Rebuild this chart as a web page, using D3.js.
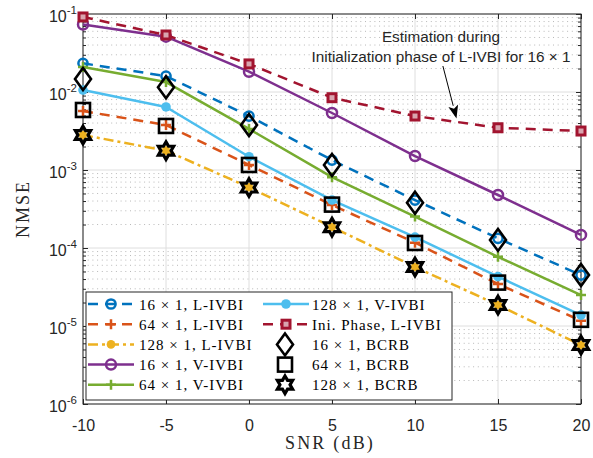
<!DOCTYPE html>
<html>
<head>
<meta charset="utf-8">
<script src="https://cdn.jsdelivr.net/npm/d3@7"></script>
<style>
  html, body { margin: 0; padding: 0; background: #fff; }
  svg { display: block; }
</style>
</head>
<body>
<svg id="chart" width="593" height="458"></svg>
<script>
// SNR sweep (dB)
const snr = [-10, -5, 0, 5, 10, 15, 20];
const xTicks = [-10, -5, 0, 5, 10, 15, 20];
const yTickExponents = [-6, -5, -4, -3, -2, -1];

// NMSE per method
const lIvbi16  = [0.0233, 0.0160, 0.00492, 0.00134, 4.12e-4, 1.33e-4, 4.5e-5];
const lIvbi64  = [0.0057, 0.00377, 0.00116, 3.56e-4, 1.17e-4, 3.45e-5, 1.17e-5];
const lIvbi128 = [0.00281, 0.00177, 6.0e-4, 1.86e-4, 5.7e-5, 1.86e-5, 5.7e-6];
const vIvbi16  = [0.0733, 0.0512, 0.0182, 0.00538, 0.00151, 4.78e-4, 1.47e-4];
const vIvbi64  = [0.0209, 0.0134, 0.00336, 8.1e-4, 2.53e-4, 7.7e-5, 2.49e-5];
const vIvbi128 = [0.0106, 0.00643, 0.00148, 4.12e-4, 1.38e-4, 4.29e-5, 1.38e-5];
const iniPhase = [0.0916, 0.0538, 0.0229, 0.00845, 0.00492, 0.00348, 0.00316];
const bcrb16   = [0.0147, 0.0115, 0.00377, 0.00116, 3.81e-4, 1.27e-4, 4.5e-5];
const bcrb64   = [0.00588, 0.00367, 0.00116, 3.6e-4, 1.16e-4, 3.6e-5, 1.2e-5];
const bcrb128  = [0.00281, 0.00177, 5.95e-4, 1.85e-4, 5.7e-5, 1.86e-5, 5.7e-6];

const seriesLabels = [
  "16 \u00d7 1, L-IVBI", "64 \u00d7 1, L-IVBI", "128 \u00d7 1, L-IVBI",
  "16 \u00d7 1, V-IVBI", "64 \u00d7 1, V-IVBI", "128 \u00d7 1, V-IVBI",
  "Ini. Phase, L-IVBI", "16 \u00d7 1, BCRB", "64 \u00d7 1, BCRB", "128 \u00d7 1, BCRB"
];

const annotationLines = ["Estimation during", "Initialization phase of L-IVBI for 16 \u00d7 1"];

// ---- styling of each curve ----
const series = [
  { values: lIvbi16,  color: "#0072BD", dash: "10,7",     marker: "circleOpen",  width: 2.5 },
  { values: lIvbi64,  color: "#D95319", dash: "10,7",     marker: "plus",        width: 2.5 },
  { values: lIvbi128, color: "#EDB120", dash: "10,4,3,4", marker: "circleSmall", width: 2.5 },
  { values: vIvbi16,  color: "#7E2F8E", dash: null,       marker: "circleOpenL", width: 2.5 },
  { values: vIvbi64,  color: "#77AC30", dash: null,       marker: "plus",        width: 2.5 },
  { values: vIvbi128, color: "#4DBEEE", dash: null,       marker: "circleFill",  width: 2.5 },
  { values: iniPhase, color: "#A2142F", dash: "10,7",     marker: "square",      width: 2.5 },
  { values: bcrb16,   color: "#000000", dash: null,       marker: "diamond",     width: 0 },
  { values: bcrb64,   color: "#000000", dash: null,       marker: "squareBig",   width: 0 },
  { values: bcrb128,  color: "#000000", dash: null,       marker: "hexagram",    width: 0 }
];
series.forEach((s, i) => s.label = seriesLabels[i]);

const svg = d3.select("#chart");
const plotLeft = 83, plotRight = 581, plotTop = 14, plotBottom = 404;
const axisColor = "#262626";

const x = d3.scaleLinear().domain([-10, 20]).range([plotLeft, plotRight]);
const y = d3.scaleLog().domain([1e-6, 1e-1]).range([plotBottom, plotTop]);

// ---- grid ----
const grid = svg.append("g");
const minorVals = [];
yTickExponents.forEach(e => { if (e < -1) for (let k = 2; k <= 9; k++) minorVals.push(k * Math.pow(10, e)); });
grid.selectAll("line.minor").data(minorVals).enter().append("line")
  .attr("x1", plotLeft).attr("x2", plotRight)
  .attr("y1", d => y(d)).attr("y2", d => y(d))
  .attr("stroke", "#b8b8b8").attr("stroke-width", 1)
  .attr("stroke-dasharray", "1,3.7");
grid.selectAll("line.majY").data(yTickExponents.map(e => Math.pow(10, e))).enter().append("line")
  .attr("x1", plotLeft).attr("x2", plotRight)
  .attr("y1", d => y(d)).attr("y2", d => y(d))
  .attr("stroke", "#dedede").attr("stroke-width", 1);
grid.selectAll("line.majX").data(xTicks).enter().append("line")
  .attr("x1", d => x(d)).attr("x2", d => x(d))
  .attr("y1", plotTop).attr("y2", plotBottom)
  .attr("stroke", "#dedede").attr("stroke-width", 1);

// ---- axes ----
const axisG = svg.append("g").attr("color", axisColor);
const xAxisB = d3.axisBottom(x).tickValues(xTicks).tickSize(-5).tickPadding(16).tickFormat(d3.format("d"));
const xAxisT = d3.axisTop(x).tickValues(xTicks).tickSize(-5).tickFormat("");
const yMajor = yTickExponents.map(e => Math.pow(10, e));
const yAxisL = d3.axisLeft(y).tickValues(yMajor).tickSize(-5).tickFormat("");
const yAxisR = d3.axisRight(y).tickValues(yMajor).tickSize(-5).tickFormat("");
const yMinorL = d3.axisLeft(y).tickValues(minorVals).tickSize(-3).tickFormat("");
const yMinorR = d3.axisRight(y).tickValues(minorVals).tickSize(-3).tickFormat("");

function styleAxis(g) {
  g.select(".domain").remove();
  g.selectAll(".tick line").attr("stroke", axisColor).attr("stroke-width", 1);
  g.selectAll("text").attr("font-family", "'Liberation Sans', Arial, sans-serif")
    .attr("font-size", 16).attr("fill", axisColor);
}
const gxB = axisG.append("g").attr("transform", `translate(0,${plotBottom})`).call(xAxisB).call(styleAxis);
gxB.selectAll("text").text(d => d < 0 ? "-" + Math.abs(d) : d);
axisG.append("g").attr("transform", `translate(0,${plotTop})`).call(xAxisT).call(styleAxis);
axisG.append("g").attr("transform", `translate(${plotLeft},0)`).call(yAxisL).call(styleAxis);
axisG.append("g").attr("transform", `translate(${plotRight},0)`).call(yAxisR).call(styleAxis);
axisG.append("g").attr("transform", `translate(${plotLeft},0)`).call(yMinorL).call(styleAxis);
axisG.append("g").attr("transform", `translate(${plotRight},0)`).call(yMinorR).call(styleAxis);

// y tick labels as 10^e
const yLab = svg.append("g");
yTickExponents.forEach(e => {
  const t = yLab.append("text")
    .attr("x", plotLeft - 6).attr("y", y(Math.pow(10, e)) + 8)
    .attr("text-anchor", "end")
    .attr("font-family", "'Liberation Sans', Arial, sans-serif")
    .attr("font-size", 16).attr("fill", axisColor);
  t.append("tspan").text("10");
  t.append("tspan").attr("dy", -8).attr("font-size", 11.5).text("-" + Math.abs(e));
});

// box
svg.append("rect").attr("x", plotLeft).attr("y", plotTop)
  .attr("width", plotRight - plotLeft).attr("height", plotBottom - plotTop)
  .attr("fill", "none").attr("stroke", axisColor).attr("stroke-width", 1);

// axis titles
svg.append("text").attr("x", (plotLeft + plotRight) / 2 - 2).attr("y", 449)
  .attr("text-anchor", "middle")
  .attr("font-family", "'Liberation Serif', 'Times New Roman', serif")
  .attr("font-size", 18).attr("letter-spacing", 2.2).attr("fill", axisColor)
  .text("SNR (dB)");
svg.append("text").attr("transform", `translate(29,${(plotTop + plotBottom) / 2}) rotate(-90)`)
  .attr("text-anchor", "middle")
  .attr("font-family", "'Liberation Serif', 'Times New Roman', serif")
  .attr("font-size", 18).attr("letter-spacing", 2).attr("fill", axisColor)
  .text("NMSE");

// ---- marker drawing ----
function hexagramPath(R) {
  const r = R / Math.sqrt(3);
  const pts = [];
  for (let i = 0; i < 12; i++) {
    const a = -Math.PI / 2 + i * Math.PI / 6;
    const rad = i % 2 === 0 ? R : r;
    pts.push([rad * Math.cos(a), rad * Math.sin(a)]);
  }
  return "M" + pts.map(p => p.join(",")).join("L") + "Z";
}
function drawMarker(g, type, color, cx, cy) {
  switch (type) {
    case "circleOpen":
      g.append("circle").attr("cx", cx).attr("cy", cy).attr("r", 4.6)
        .attr("fill", "none").attr("stroke", color).attr("stroke-width", 2.5); break;
    case "circleOpenL":
      g.append("circle").attr("cx", cx).attr("cy", cy).attr("r", 5)
        .attr("fill", "none").attr("stroke", color).attr("stroke-width", 2.5); break;
    case "circleSmall":
      g.append("circle").attr("cx", cx).attr("cy", cy).attr("r", 4.3)
        .attr("fill", color).attr("stroke", "none"); break;
    case "circleFill":
      g.append("circle").attr("cx", cx).attr("cy", cy).attr("r", 4.8)
        .attr("fill", color).attr("stroke", "none"); break;
    case "plus":
      g.append("path").attr("d", `M${cx - 5},${cy}H${cx + 5}M${cx},${cy - 5}V${cy + 5}`)
        .attr("stroke", color).attr("stroke-width", 2.5).attr("fill", "none"); break;
    case "square":
      g.append("rect").attr("x", cx - 4).attr("y", cy - 4).attr("width", 8).attr("height", 8)
        .attr("fill", "#d9a5af").attr("stroke", color).attr("stroke-width", 3); break;
    case "squareBig":
      g.append("rect").attr("x", cx - 7).attr("y", cy - 7).attr("width", 14).attr("height", 14)
        .attr("fill", "none").attr("stroke", color).attr("stroke-width", 2.6); break;
    case "diamond":
      g.append("path").attr("d", `M${cx},${cy - 11}L${cx + 8},${cy}L${cx},${cy + 11}L${cx - 8},${cy}Z`)
        .attr("fill", "none").attr("stroke", color).attr("stroke-width", 2.6)
        .attr("stroke-linejoin", "miter"); break;
    case "hexagram":
      g.append("path").attr("d", hexagramPath(8.8)).attr("transform", `translate(${cx},${cy})`)
        .attr("fill", "none").attr("stroke", color).attr("stroke-width", 3.2)
        .attr("stroke-linejoin", "miter"); break;
  }
}

// ---- curves ----
const line = d3.line().x((d, i) => x(snr[i])).y(d => y(d));
const plotG = svg.append("g");
series.forEach(s => {
  const g = plotG.append("g");
  if (s.width > 0) {
    g.append("path").attr("d", line(s.values))
      .attr("fill", "none").attr("stroke", s.color).attr("stroke-width", s.width)
      .attr("stroke-dasharray", s.dash).attr("stroke-linejoin", "round");
  }
  s.values.forEach((v, i) => drawMarker(g, s.marker, s.color, x(snr[i]), y(v)));
});

// ---- annotation ----
const tipX = x(12.5);
const tipY = (y(iniPhase[4]) + y(iniPhase[5])) / 2 - 3.5;
const startX = x(11.68), startY = 66;
const ann = svg.append("g");
annotationLines.forEach((t, i) => {
  ann.append("text").attr("x", 441).attr("y", 42 + i * 20)
    .attr("text-anchor", "middle")
    .attr("font-family", "'Liberation Sans', Arial, sans-serif")
    .attr("font-size", 15.3).attr("fill", axisColor).text(t);
});
const ang = Math.atan2(tipY - startY, tipX - startX);
const hl = 13, hw = 5;
const bx = tipX - hl * Math.cos(ang), by = tipY - hl * Math.sin(ang);
ann.append("line").attr("x1", startX).attr("y1", startY).attr("x2", bx).attr("y2", by)
  .attr("stroke", "#000").attr("stroke-width", 1);
ann.append("path")
  .attr("d", `M${tipX},${tipY}L${bx + hw * Math.sin(ang)},${by - hw * Math.cos(ang)}L${bx + 3 * Math.cos(ang)},${by + 3 * Math.sin(ang)}L${bx - hw * Math.sin(ang)},${by + hw * Math.cos(ang)}Z`)
  .attr("fill", "#000");

// ---- legend ----
const lg = svg.append("g");
const lgX = 86, lgY = 292, lgW = 366, lgH = 108;
lg.append("rect").attr("x", lgX).attr("y", lgY).attr("width", lgW).attr("height", lgH)
  .attr("fill", "#fff").attr("stroke", axisColor).attr("stroke-width", 1);
const rowH = 20.2;
series.forEach((s, i) => {
  const col = i < 5 ? 0 : 1;
  const row = i % 5;
  const cy = lgY + 12 + row * rowH;
  const x0 = col === 0 ? 88 : 263;
  const x1 = x0 + 46;
  const mx = s.width > 0 ? (x0 + x1) / 2 : 285;
  const g = lg.append("g");
  if (s.width > 0) {
    g.append("line").attr("x1", x0).attr("x2", x1).attr("y1", cy).attr("y2", cy)
      .attr("stroke", s.color).attr("stroke-width", s.width).attr("stroke-dasharray", s.dash);
  }
  drawMarker(g, s.marker, s.color, mx, cy);
  g.append("text").attr("x", col === 0 ? 139 : 312).attr("y", cy + 5.5)
    .attr("font-family", "'Liberation Serif', 'Times New Roman', serif")
    .attr("font-size", 15).attr("letter-spacing", 1).attr("fill", "#000")
    .text(s.label);
});
</script>
</body>
</html>
